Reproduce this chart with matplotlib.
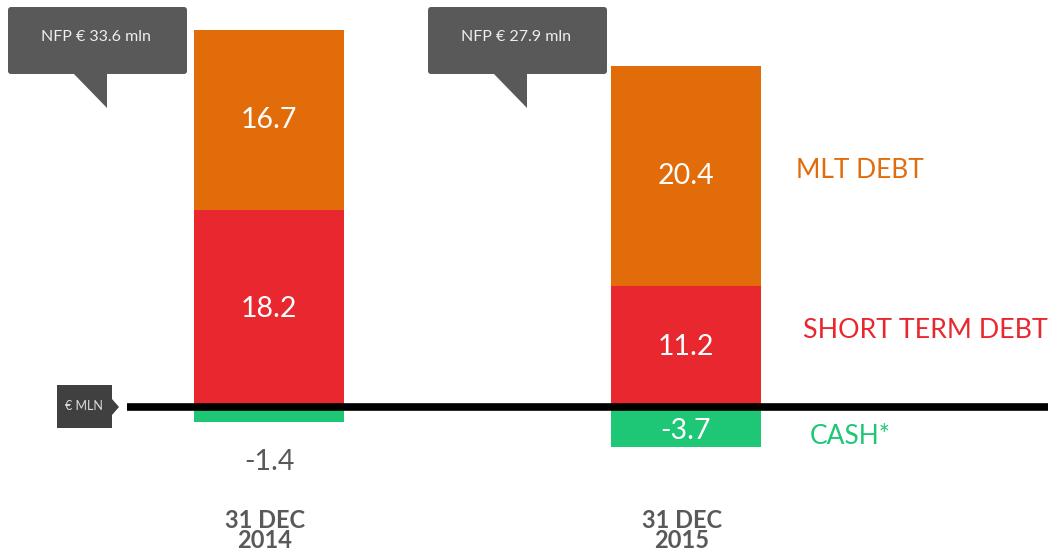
import matplotlib
matplotlib.use("Agg")
import matplotlib.pyplot as plt
from matplotlib.patches import FancyBboxPatch, Polygon

# ---- data ----
periods = ["31 DEC\n2014", "31 DEC\n2015"]
mlt_debt = [16.7, 20.4]
short_term_debt = [18.2, 11.2]
cash = [-1.4, -3.7]
nfp_labels = ["NFP € 33.6 mln", "NFP € 27.9 mln"]
series_names = ["MLT DEBT", "SHORT TERM DEBT", "CASH*"]

C_MLT = "#E36C0A"
C_STD = "#E8272E"
C_CASH = "#1EC776"
GRAY = "#595959"
FONT = ["Lato", "DejaVu Sans"]

W, H = 1048, 551
fig = plt.figure(figsize=(W / 100, H / 100), dpi=100)
ax = fig.add_axes([0, 0, 1, 1])
px_x = 417.0
px_y = 10.8
base_px = 407
ax.set_xlim(-269 / px_x, (W - 269) / px_x)
ax.set_ylim(-(H - base_px) / px_y, base_px / px_y)
ax.axis("off")

x = list(range(len(periods)))
bw = 150 / px_x
ax.bar(x, short_term_debt, width=bw, color=C_STD, zorder=2)
ax.bar(x, mlt_debt, width=bw, bottom=short_term_debt, color=C_MLT, zorder=2)
ax.bar(x, cash, width=bw, color=C_CASH, zorder=2)

for i in x:
    ax.text(i, short_term_debt[i] / 2, f"{short_term_debt[i]:.1f}", color="white",
            ha="center", va="center", fontsize=20.5, family=FONT, zorder=4)
    ax.text(i, short_term_debt[i] + mlt_debt[i] / 2, f"{mlt_debt[i]:.1f}", color="white",
            ha="center", va="center", fontsize=20.5, family=FONT, zorder=4)
    if abs(cash[i]) >= 3:
        ax.text(i, cash[i] / 2 - 0.4, f"{cash[i]:.1f}", color="white",
                ha="center", va="center", fontsize=20.5, family=FONT, zorder=4)
    else:
        ax.text(i, cash[i] - 3.7, f"{cash[i]:.1f}", color=GRAY,
                ha="center", va="center", fontsize=20.5, family=FONT, zorder=4)
    top, bottom = periods[i].split("\n")
    ax.text(i - 0.01, -(520 - base_px) / px_y, top, color=GRAY,
            ha="center", va="center", fontsize=17, fontweight="bold", family=FONT)
    ax.text(i - 0.01, -(541 - base_px) / px_y, bottom, color=GRAY,
            ha="center", va="center", fontsize=17, fontweight="bold", family=FONT)

# overlay in pixel coordinates for annotations
ov = fig.add_axes([0, 0, 1, 1], zorder=5)
ov.set_xlim(0, W)
ov.set_ylim(H, 0)
ov.axis("off")

# baseline
ov.plot([127, W], [407, 407], color="black", lw=5.5, solid_capstyle="butt", zorder=6)

# € MLN tag
ov.add_patch(FancyBboxPatch((57, 385), 55, 43, boxstyle="square,pad=0", fc="#404040", ec="none"))
ov.add_patch(Polygon([[112, 399], [119, 407], [112, 415]], closed=True, fc="#404040", ec="none"))
ov.text(84, 406, "€ MLN", color="#DDDDDD", fontsize=9, ha="center", va="center", family=FONT)

# NFP callouts
for (x0, tx), lab in zip([(8, 107), (428, 527)], nfp_labels):
    ov.add_patch(FancyBboxPatch((x0 + 3, 10), 173, 61,
                                boxstyle="round,pad=3,rounding_size=3", fc=GRAY, ec="none"))
    ov.add_patch(Polygon([[tx - 34, 73], [tx, 73], [tx, 108]], closed=True, fc=GRAY, ec="none"))
    ov.text(x0 + 88, 37, lab, color="#EEEEEE", fontsize=11.5, ha="center", va="center", family=FONT)

# series labels
ov.text(796, 171, series_names[0], color=C_MLT, fontsize=19, ha="left", va="center", family=FONT)
ov.text(803, 331, series_names[1], color=C_STD, fontsize=19.3, ha="left", va="center", family=FONT)
ov.text(810, 437, series_names[2], color=C_CASH, fontsize=19, ha="left", va="center", family=FONT)

fig.savefig("out.png", dpi=100, facecolor="white")
